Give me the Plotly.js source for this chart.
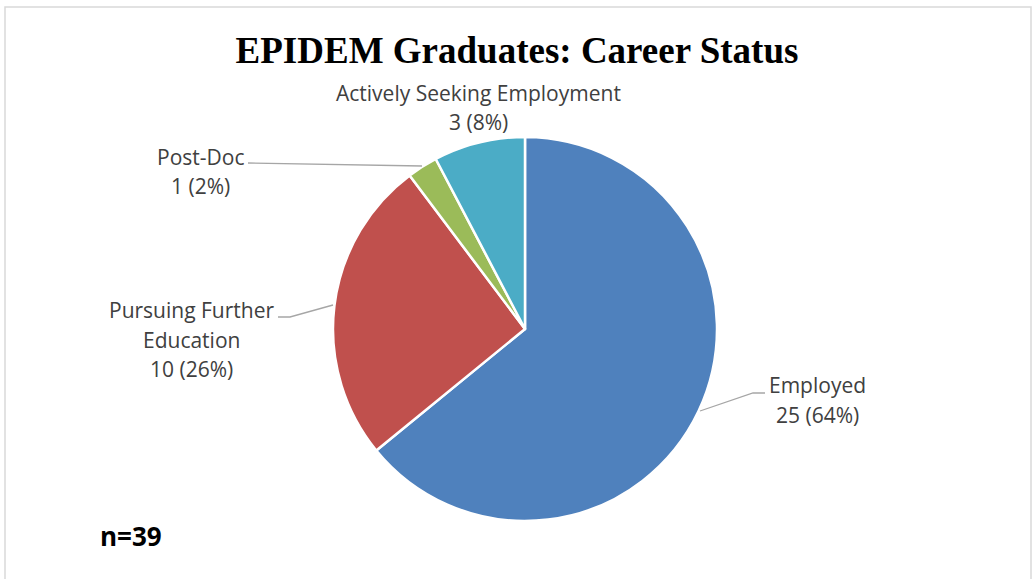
<!DOCTYPE html>
<html>
<head>
<meta charset="utf-8">
<script src="https://cdn.plot.ly/plotly-3.0.1.min.js"></script>
<style>html,body{margin:0;padding:0;background:#fff;}#chart{width:1034px;height:579px;}</style>
</head>
<body>
<div id="chart"></div>
<script>
const categories = ["Employed", "Pursuing Further Education", "Post-Doc", "Actively Seeking Employment"];
const labelLines = [["Employed"], ["Pursuing Further", "Education"], ["Post-Doc"], ["Actively Seeking Employment"]];
const counts = [25, 10, 1, 3];
const percents = [64, 26, 2, 8];
const colors = ["#4F81BD", "#C0504D", "#9BBB59", "#4BACC6"];
const sampleNote = "n=39";
const chartTitle = "EPIDEM Graduates: Career Status";

const W = 1034, H = 579;
const px = x => x / W;
const py = y => 1 - y / H;

// label first-line centers (pixel) for each category
const labelPos = [[817, 385], [191, 310], [200, 157], [478, 93]];
const lineStep = 29.5;
const leaders = [
  [[765, 393], [753, 393], [700, 411]],
  [[278, 317], [290, 317], [333, 305]],
  [[248, 163], [422, 166]],
  null
];

const annotations = [];
categories.forEach((c, i) => {
  const lines = labelLines[i].concat([counts[i] + ' (' + percents[i] + '%)']);
  lines.forEach((t, k) => {
    annotations.push({
      x: px(labelPos[i][0]), y: py(labelPos[i][1] + k * lineStep), xref: 'paper', yref: 'paper',
      text: t, showarrow: false, xanchor: 'center', yanchor: 'middle', align: 'center',
      font: {family: 'Open Sans, sans-serif', size: 21, color: '#404040'}
    });
  });
});
annotations.push({
  x: px(98), y: py(536), xref: 'paper', yref: 'paper', text: '<b>' + sampleNote + '</b>',
  showarrow: false, xanchor: 'left', yanchor: 'middle',
  font: {family: 'Open Sans, sans-serif', size: 26, color: '#000'}
});

const shapes = [{
  type: 'rect', xref: 'paper', yref: 'paper', x0: px(5), x1: px(1031), y0: py(7), y1: -0.1,
  line: {color: '#D9D9D9', width: 1.5}, fillcolor: 'rgba(0,0,0,0)'
}];
leaders.forEach(l => {
  if (!l) return;
  let d = 'M ' + l.map(p => px(p[0]) + ' ' + py(p[1])).join(' L ');
  shapes.push({type: 'path', xref: 'paper', yref: 'paper', path: d, line: {color: '#A6A6A6', width: 1.3}});
});

const cx = 525, cy = 329, r = 192;
const data = [{
  type: 'pie', labels: categories, values: counts, sort: false, direction: 'clockwise', rotation: 0,
  marker: {colors: colors, line: {color: '#FFFFFF', width: 2.5}},
  textinfo: 'none', hoverinfo: 'label+value+percent',
  domain: {x: [px(cx - r), px(cx + r)], y: [py(cy + r), py(cy - r)]},
  showlegend: false
}];

const layout = {
  width: W, height: H, margin: {l: 0, r: 0, t: 0, b: 0},
  paper_bgcolor: '#FFFFFF',
  title: {text: '<b>' + chartTitle + '</b>', x: 0.5, xanchor: 'center', y: py(50), yanchor: 'middle',
    font: {family: 'Liberation Serif, serif', size: 37, color: '#000'}},
  annotations: annotations, shapes: shapes, showlegend: false
};
Plotly.newPlot('chart', data, layout, {staticPlot: true});
</script>
</body>
</html>
